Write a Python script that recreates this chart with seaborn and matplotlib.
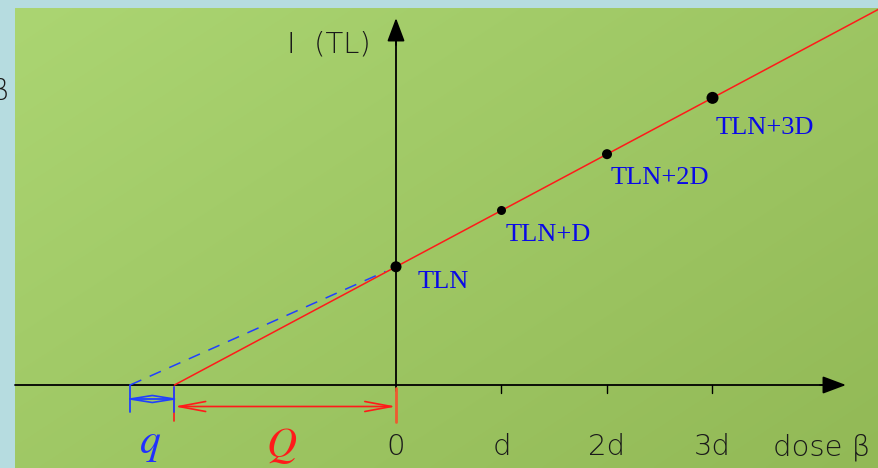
import numpy as np
import pandas as pd
import matplotlib
matplotlib.use("Agg")
import matplotlib.pyplot as plt
import seaborn as sns

# --- data ---------------------------------------------------------------
dose = [0, 1, 2, 3]                        # added dose, in units of d
signal = [2.1, 3.1, 4.1, 5.1]              # TL intensity at each dose
point_labels = ["TLN", "TLN+D", "TLN+2D", "TLN+3D"]
dot_px = [11, 9, 10, 12]                   # marker diameters
tick_labels = ["0", "d", "2d", "3d"]
q_shift = 0.42                             # supralinearity correction q

df = pd.DataFrame({"dose": dose, "signal": signal, "label": point_labels})

# linear fit of the additive-dose points; Q is the extrapolated x-intercept
slope, intercept = np.polyfit(df["dose"], df["signal"], 1)
Q = intercept / slope

# --- figure / coordinate frame -----------------------------------------
W, H, DPI = 879, 468, 100
sx, sy = 105.5, 56.3            # pixels per unit along x and y
x0_px, y0_px = 396, 385         # origin position in pixels

def px_x(p):
    return (p - x0_px) / sx

def px_y(p):
    return (y0_px - p) / sy

sns.set_theme(style="white")
plt.rcParams["mathtext.fontset"] = "stix"

fig = plt.figure(figsize=(W / DPI, H / DPI), dpi=DPI)
fig.patch.set_facecolor("#b6dce0")
ax = fig.add_axes([0, 0, 1, 1])
ax.set_xlim(px_x(0), px_x(W))
ax.set_ylim(px_y(H), px_y(0))
ax.axis("off")

# diagonal green gradient panel
ny, nx = 200, 300
gx, gy = np.meshgrid(np.linspace(0, 1, nx), np.linspace(0, 1, ny))
t = (gx * 0.55 + gy * 0.45)[..., None]
c0 = np.array([0xab, 0xd5, 0x72]) / 255
c1 = np.array([0x92, 0xb9, 0x56]) / 255
grad = c0 * (1 - t) + c1 * t
ax.imshow(grad, extent=(px_x(15), px_x(W), px_y(H), px_y(8)),
          aspect="auto", zorder=0, interpolation="bilinear")

# --- axes with arrows ---------------------------------------------------
ax.plot([px_x(15), px_x(832)], [0, 0], color="black", lw=1.3, zorder=2)
ax.annotate("", xy=(px_x(846), 0), xytext=(px_x(820), 0),
            arrowprops=dict(arrowstyle="-|>,head_length=1.2,head_width=0.45",
                            color="black", lw=1.3, shrinkA=0, shrinkB=0),
            zorder=3)
ax.plot([0, 0], [px_y(391), px_y(32)], color="black", lw=1.3, zorder=2)
ax.annotate("", xy=(0, px_y(18)), xytext=(0, px_y(45)),
            arrowprops=dict(arrowstyle="-|>,head_length=1.2,head_width=0.45",
                            color="black", lw=1.3, shrinkA=0, shrinkB=0),
            zorder=3)
for xv in dose[1:]:
    ax.plot([xv, xv], [0, px_y(393)], color="black", lw=1.0, zorder=2)

# --- fitted line and extrapolation --------------------------------------
x_end = px_x(W)
fit = pd.DataFrame({"dose": [-Q, x_end],
                    "signal": [slope * -Q + intercept, slope * x_end + intercept]})
sns.lineplot(data=fit, x="dose", y="signal", color="#ff1a1a", lw=1.1,
             ax=ax, zorder=4)

dash = pd.DataFrame({"dose": [-(Q + q_shift), -0.1],
                     "signal": [0, intercept * (1 - 0.1 / (Q + q_shift))]})
sns.lineplot(data=dash, x="dose", y="signal", color="#2040ff", lw=1.1,
             ax=ax, zorder=3, dashes=False, linestyle=(0, (8, 6)))

sns.scatterplot(data=df, x="dose", y="signal", color="black",
                s=[(d * 72 / DPI) ** 2 for d in dot_px], edgecolor="black",
                linewidth=0, ax=ax, zorder=6, legend=False)

label_off = [(22, -15), (4, -25), (4, -24), (3, -30)]
for (xv, yv, lab), off in zip(zip(dose, signal, point_labels), label_off):
    ax.annotate(lab, xy=(xv, yv), xytext=off, textcoords="offset pixels",
                ha="left", va="center", color="#0a0ae6",
                fontsize=19, family="Liberation Serif", zorder=7)

# --- q and Q dimension marks --------------------------------------------
xq = -(Q + q_shift)
ax.plot([xq, xq], [0, px_y(412)], color="#2040ff", lw=1.3, zorder=3)
ax.plot([-Q, -Q], [px_y(387), px_y(421)], color="#ff1a1a", lw=1.2, zorder=3)
ax.plot([-Q, -Q], [px_y(387), px_y(412)], color="#2040ff", lw=1.3, zorder=3)
ax.plot([0, 0], [px_y(388), px_y(422)], color="#ee5a30", lw=2.0, zorder=3)

# q: double arrow whose open heads meet in the middle (a flat diamond)
yq = px_y(399)
hq = 3.5 / sy
xm = (xq + -Q) / 2
ax.plot([xq, -Q], [yq, yq], color="#2040ff", lw=1.3, zorder=3)
ax.plot([xq, xm, -Q, xm, xq], [yq, yq + hq, yq, yq - hq, yq],
        color="#2040ff", lw=1.2, zorder=3)

ax.annotate("", xy=(-Q, px_y(406.5)), xytext=(0, px_y(406.5)),
            arrowprops=dict(arrowstyle="<->,head_length=1.6,head_width=0.3",
                            color="#ff1a1a", lw=1.2, shrinkA=0, shrinkB=0),
            zorder=3)

ax.text(px_x(150), px_y(453), r"$q$", color="#2030ff", fontsize=30,
        ha="center", va="baseline")
ax.text(px_x(282), px_y(457), r"$Q$", color="#ff1a1a", fontsize=30,
        ha="center", va="baseline")

# --- axis text ----------------------------------------------------------
thin = dict(family="DejaVu Sans", fontweight="light", color="#1a1a1a",
            fontsize=21)
for xv, lab in zip(dose, tick_labels):
    ax.text(xv, px_y(455), lab, ha="center", va="baseline", **thin)
ax.text(px_x(822), px_y(455), "dose β", ha="center", va="baseline", **thin)
ax.text(px_x(329), px_y(53), "I  (TL)", ha="center", va="baseline", **thin)
ax.text(px_x(9), px_y(99), "β", ha="right", va="baseline", **thin)

fig.savefig("out.png", dpi=DPI, facecolor=fig.get_facecolor())
